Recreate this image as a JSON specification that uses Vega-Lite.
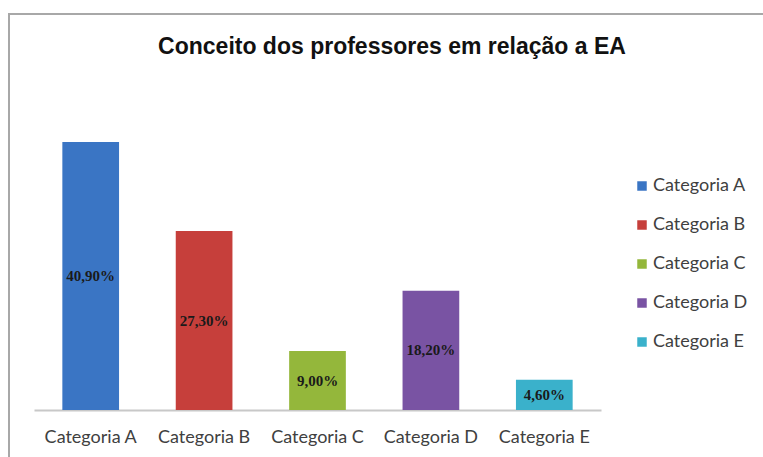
{
  "$schema": "https://vega.github.io/schema/vega-lite/v6.json",
  "autosize": {"type": "none"},
  "padding": {"left": 9, "top": 14, "right": 0, "bottom": 0},
  "width": 780,
  "height": 470,
  "background": "white",
  "config": {
    "locale": {"number": {"decimal": ",", "thousands": ".", "grouping": [3], "currency": ["", " €"]}},
    "view": {"stroke": "#a8a8a8", "strokeWidth": 2}
  },
  "title": {
    "text": "Conceito dos professores em relação a EA",
    "anchor": "middle",
    "frame": "group",
    "font": "Liberation Sans",
    "fontSize": 23,
    "fontWeight": "bold",
    "color": "#111111",
    "baseline": "middle",
    "offset": 0,
    "dx": -7,
    "dy": 56
  },
  "data": {
    "values": [
      {"categoria": "Categoria A", "valor": 0.409},
      {"categoria": "Categoria B", "valor": 0.273},
      {"categoria": "Categoria C", "valor": 0.09},
      {"categoria": "Categoria D", "valor": 0.182},
      {"categoria": "Categoria E", "valor": 0.046}
    ]
  },
  "encoding": {
    "x": {
      "field": "categoria",
      "type": "nominal",
      "sort": null,
      "scale": {"range": [25, 592], "paddingInner": 0.5, "paddingOuter": 0.25},
      "axis": {
        "title": null,
        "orient": "bottom",
        "offset": -74,
        "labelAngle": 0,
        "ticks": false,
        "domainColor": "#c8c8c8",
        "domainWidth": 2,
        "labelFont": "Lato",
        "labelFontSize": 18,
        "labelColor": "#404040",
        "labelPadding": 18
      }
    }
  },
  "layer": [
    {
      "mark": {"type": "bar"},
      "encoding": {
        "y": {
          "field": "valor",
          "type": "quantitative",
          "scale": {"domain": [0, 0.45], "range": [396, 101], "nice": false},
          "axis": null
        },
        "color": {
          "field": "categoria",
          "type": "nominal",
          "sort": null,
          "scale": {"range": ["#3a75c4", "#c63f3b", "#94b73b", "#7953a3", "#3ab1cb"]},
          "legend": {
            "title": null,
            "orient": "none",
            "legendX": 624,
            "legendY": 163,
            "symbolType": "square",
            "symbolSize": 90,
            "symbolStrokeWidth": 0,
            "labelFont": "Lato",
            "labelFontSize": 18,
            "labelColor": "#404040",
            "labelOffset": 2,
            "rowPadding": 21
          }
        }
      }
    },
    {
      "mark": {"type": "text", "font": "Liberation Serif", "fontSize": 15, "fontWeight": "bold", "color": "#1a1a1a", "baseline": "middle"},
      "encoding": {
        "y": {
          "field": "valor",
          "type": "quantitative",
          "scale": {"domain": [0, 0.9], "range": [396, 101], "nice": false},
          "axis": null
        },
        "text": {"field": "valor", "type": "quantitative", "format": ".2%"}
      }
    }
  ],
  "resolve": {"scale": {"y": "independent"}}
}
